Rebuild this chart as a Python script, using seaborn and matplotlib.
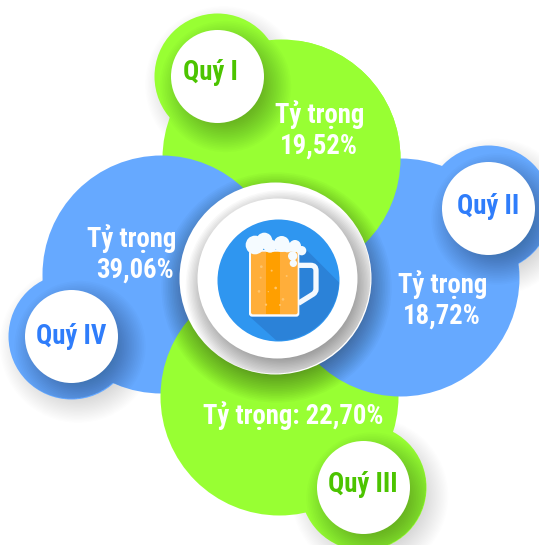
import matplotlib
matplotlib.use("Agg")
import matplotlib.pyplot as plt
from matplotlib import font_manager as fm
from matplotlib.patches import Circle, FancyBboxPatch, Polygon, Rectangle
from matplotlib.path import Path
from matplotlib.patches import PathPatch
import seaborn as sns

# ---- data ----
quarters = ["Quý I", "Quý II", "Quý III", "Quý IV"]
shares = [19.52, 18.72, 22.70, 39.06]
share_label = "Tỷ trọng"

# ---- layout / style ----
GREEN, BLUE = "#98FF33", "#66A9FF"
GREEN_T, BLUE_T = "#4CC400", "#2F7DFB"
big_xy = {"Quý I": (281, 158), "Quý II": (400, 277), "Quý III": (279, 396), "Quý IV": (161, 274)}
small_xy = {"Quý I": (216.5, 75.5), "Quý II": (488, 208), "Quý III": (363, 487), "Quý IV": (71, 335.5)}
fill = {"Quý I": GREEN, "Quý II": BLUE, "Quý III": GREEN, "Quý IV": BLUE}
tfill = {"Quý I": GREEN_T, "Quý II": BLUE_T, "Quý III": GREEN_T, "Quý IV": BLUE_T}
draw_order = ["Quý I", "Quý IV", "Quý III", "Quý II"]
R_BIG, R_RING, R_WHITE = 119, 63, 46.5

names = {f.name for f in fm.fontManager.ttflist}
FAMILY = next((n for n in ["Roboto Condensed", "Liberation Sans Narrow", "Roboto"] if n in names), "DejaVu Sans")

sns.set_theme(style="white")
plt.rcParams["font.family"] = [FAMILY, "DejaVu Sans"]
W, H = 539, 545
fig = plt.figure(figsize=(W / 100, H / 100), dpi=100)
ax = fig.add_axes([0, 0, 1, 1])
ax.set_xlim(0, W)
ax.set_ylim(H, 0)


def disc(xy, r, color, z):
    """Filled disc whose radius is given in pixels (1 data unit = 1 px)."""
    sns.scatterplot(x=[xy[0]], y=[xy[1]], s=(2 * r * 72 / 100) ** 2, color=color,
                    linewidth=0, ax=ax, zorder=z, legend=False)
    return ax.collections[-1]


def shadow(xy, r, dx, dy, blur, total, z, clip=None, color="black", n=24):
    for i in range(n):
        rr = r + blur * (1 - 2 * (i + 0.5) / n)
        c = Circle((xy[0] + dx, xy[1] + dy), rr, fc=color, ec="none", alpha=total / n, zorder=z)
        ax.add_patch(c)
        if clip is not None:
            c.set_clip_path(clip, ax.transData)


z = 1
for q in draw_order:
    shadow(small_xy[q], R_RING, 7, 9, 16, 0.18, z)
    z += 1
    disc(big_xy[q], R_BIG, fill[q], z)
    disc(small_xy[q], R_RING, fill[q], z)
    z += 1
    union = Path.make_compound_path(Path.circle(big_xy[q], R_BIG), Path.circle(small_xy[q], R_RING))
    shadow(small_xy[q], R_WHITE, 9, 11, 20, 0.42, z, clip=union)
    z += 1
    disc(small_xy[q], R_WHITE, "white", z)
    z += 1

# the petals overlap in a cycle: Quý I lies over Quý II on its right-hand side,
# clipped to the part beyond the reach of its own white circle's shadow
overlap = disc(big_xy["Quý I"], R_BIG, fill["Quý I"], z)
overlap.set_clip_path(Rectangle((300, 0), W, big_xy["Quý II"][1], transform=ax.transData))

# ---- centre medallion ----
C_OUT, C_IN, C_ICON = (274.5, 277.5), (277, 277.5), (278, 279.5)
shadow(C_OUT, 96, 2, 10, 20, 0.55, 50)
disc(C_OUT, 96, "white", 51)
shadow(C_IN, 80, 5, 9, 17, 0.60, 52, clip=Path.circle(C_OUT, 96))
disc(C_IN, 80, "white", 53)
disc(C_ICON, 61, "#2F96F0", 54)


def Z(x, y):
    return (170 + x / 3, 170 + y / 3)


clip_icon = Circle(C_ICON, 61, transform=ax.transData)
long_shadow = Polygon([Z(237, 438), Z(405, 235), Z(620, 450), Z(440, 620)], closed=True,
                      fc="#2B82D8", ec="none", zorder=55)
ax.add_patch(long_shadow)
long_shadow.set_clip_path(clip_icon)

# handle
h_verts = [Z(385, 286), Z(422, 286), Z(438, 286), Z(438, 302), Z(438, 358), Z(438, 366), Z(430, 372), Z(385, 400)]
h_codes = [Path.MOVETO, Path.LINETO, Path.CURVE3, Path.CURVE3, Path.LINETO, Path.CURVE3, Path.CURVE3, Path.LINETO]
ax.add_patch(PathPatch(Path(h_verts, h_codes), fc="none", ec="#F4F9FE", lw=3.8, zorder=56, capstyle="butt"))

# glass
x0, y0 = Z(237, 240)
x1, y1 = Z(388, 440)
ax.add_patch(FancyBboxPatch((x0 + 2, y0 + 2), x1 - x0 - 4, y1 - y0 - 4, boxstyle="round,pad=2,rounding_size=3",
                            fc="#F7FBFF", ec="none", zorder=57))
x0, y0 = Z(243, 245)
x1, y1 = Z(383, 433)
ax.add_patch(FancyBboxPatch((x0 + 1, y0 + 1), x1 - x0 - 2, y1 - y0 - 2, boxstyle="round,pad=1,rounding_size=2",
                            fc="#FFAE3A", ec="none", zorder=58))
sx0, sy0 = Z(289, 245)
sx1, sy1 = Z(330, 433)
ax.add_patch(Rectangle((sx0, sy0), sx1 - sx0, sy1 - sy0, fc="#FF9F00", ec="none", zorder=59))
for bx, by, br in [(274, 290, 4), (305, 302, 3), (272, 323, 3), (350, 318, 3), (267, 364, 4),
                   (317, 354, 4), (339, 388, 4), (288, 404, 3.5), (330, 405, 3), (295, 365, 2)]:
    ax.add_patch(Circle(Z(bx, by), br / 3, fc="#FFC56B", ec="none", zorder=60))

# foam
for fx, fy, fr in [(255, 225, 28), (283, 212, 24), (300, 228, 20), (335, 222, 24), (352, 232, 15),
                   (375, 228, 18), (395, 242, 14), (368, 258, 14), (370, 280, 11)]:
    ax.add_patch(Circle(Z(fx, fy), fr / 3, fc="#F5FBFF", ec="none", zorder=61))

# ---- labels ----
TS = 19.3


def label(x, y, s, color="white", size=TS):
    ax.text(x, y, s, color=color, fontsize=size, fontweight="bold", ha="center", va="center", zorder=70)


def pct(v):
    return f"{v:.2f}".replace(".", ",") + "%"


label(319.5, 115, share_label)
label(319, 146, pct(shares[0]))
label(442.5, 285, share_label)
label(442, 316, pct(shares[1]))
label(293.5, 416, f"{share_label}: {pct(shares[2])}")
label(131.5, 239, share_label)
label(134.5, 270, pct(shares[3]))

name_xy = {"Quý I": (210.5, 73), "Quý II": (488, 206), "Quý III": (363, 485), "Quý IV": (71, 337)}
for q in quarters:
    label(*name_xy[q], q, color=tfill[q])

ax.set_xlim(0, W)
ax.set_ylim(H, 0)
ax.axis("off")
fig.savefig("out.png", dpi=100, facecolor="white")
